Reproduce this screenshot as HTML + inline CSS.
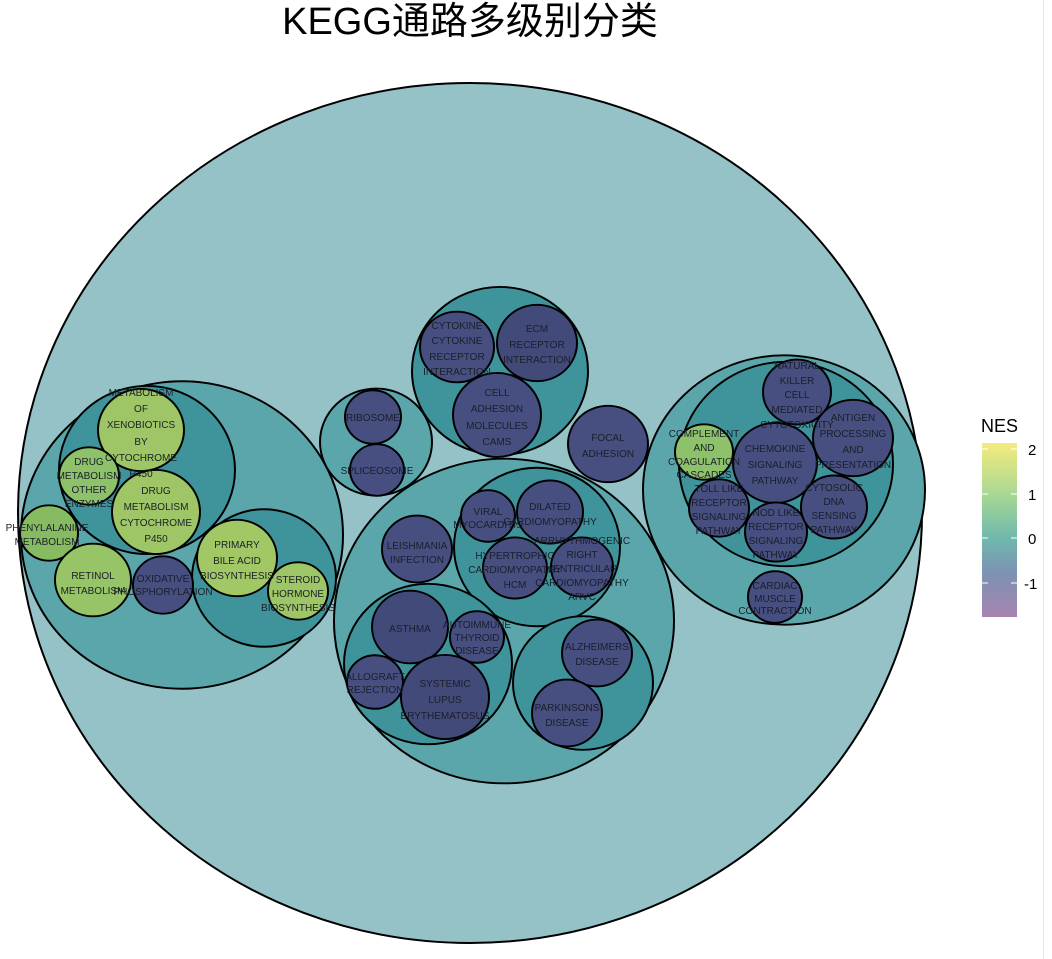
<!DOCTYPE html>
<html><head><meta charset="utf-8"><style>
html,body{margin:0;padding:0;background:#fff;}
svg{display:block;}
text{font-family:"Liberation Sans",sans-serif;}
.l{font-size:10px;fill:#1a1f2a;text-anchor:middle;}
.c circle{transform-box:fill-box;transform-origin:center;transform:scaleY(0.955);}
</style></head><body>
<svg width="1052" height="959" viewBox="0 0 1052 959" xmlns="http://www.w3.org/2000/svg">
<rect width="1052" height="959" fill="#fff"/>
<line x1="1043.5" y1="0" x2="1043.5" y2="959" stroke="#e2e2e2" stroke-width="1"/>
<text x="470" y="34" font-size="38" text-anchor="middle" style='font-family:"Liberation Sans","Noto Sans CJK SC",sans-serif' fill="#000">KEGG通路多级别分类</text>
<ellipse cx="470" cy="513" rx="452" ry="430" fill="#94c2c6" stroke="#000" stroke-width="2"/>
<g stroke="#000" stroke-width="2" class="c">
<!-- left -->
<circle cx="182" cy="535" r="161" fill="#5ba6ab"/>
<circle cx="147" cy="470" r="88" fill="#3f939b"/>
<circle cx="264" cy="578" r="72" fill="#3f939b"/>
<circle cx="141" cy="430" r="43" fill="#9fc666"/>
<circle cx="89" cy="476" r="30" fill="#8dc26a"/>
<circle cx="156" cy="512" r="44" fill="#9fc666"/>
<circle cx="49" cy="533" r="29" fill="#86bb62"/>
<circle cx="93" cy="580" r="38" fill="#97c466"/>
<circle cx="163" cy="585" r="30" fill="#464f80"/>
<circle cx="237" cy="558" r="40" fill="#a2c866"/>
<circle cx="298" cy="591" r="30" fill="#9fc666"/>
<!-- ribosome -->
<circle cx="376" cy="442" r="56" fill="#5ba6ab"/>
<circle cx="373" cy="417" r="28" fill="#464f80"/>
<circle cx="377" cy="470" r="27" fill="#464f80"/>
<!-- cytokine -->
<circle cx="500" cy="371" r="88" fill="#3f939b"/>
<circle cx="457" cy="347" r="37" fill="#464f80"/>
<circle cx="537" cy="343" r="40" fill="#424a7a"/>
<circle cx="497" cy="415" r="44" fill="#464f80"/>
<circle cx="608" cy="444" r="40" fill="#464f80"/>
<!-- center -->
<circle cx="504" cy="621" r="170" fill="#5ba6ab"/>
<circle cx="537" cy="547" r="83" fill="#3f939b"/>
<circle cx="488" cy="516" r="27" fill="#464f80"/>
<circle cx="550" cy="512" r="33" fill="#464f80"/>
<circle cx="515" cy="568" r="32" fill="#464f80"/>
<circle cx="582" cy="567" r="31" fill="#464f80"/>
<circle cx="417" cy="549" r="35" fill="#464f80"/>
<circle cx="428" cy="664" r="84" fill="#3f939b"/>
<circle cx="410" cy="627" r="38" fill="#424a7a"/>
<circle cx="477" cy="637" r="27" fill="#464f80"/>
<circle cx="375" cy="682" r="28" fill="#464f80"/>
<circle cx="445" cy="697" r="44" fill="#424a7a"/>
<circle cx="583" cy="683" r="70" fill="#3f939b"/>
<circle cx="597" cy="653" r="35" fill="#464f80"/>
<circle cx="567" cy="713" r="35" fill="#464f80"/>
<!-- right -->
<circle cx="784" cy="490" r="141" fill="#5ba6ab"/>
<circle cx="786" cy="464" r="107" fill="#3f939b"/>
<circle cx="797" cy="392" r="34" fill="#464f80"/>
<circle cx="853" cy="438" r="40" fill="#464f80"/>
<circle cx="704" cy="452" r="29" fill="#8dc26a"/>
<circle cx="775" cy="463" r="42" fill="#464f80"/>
<circle cx="719" cy="508" r="30" fill="#464f80"/>
<circle cx="776" cy="532" r="31" fill="#464f80"/>
<circle cx="834" cy="507" r="33" fill="#464f80"/>
<circle cx="775" cy="597" r="27" fill="#464f80"/>
</g>
<g class="l">
<text class="l" x="141" y="396">METABOLISM</text><text class="l" x="141" y="412">OF</text><text class="l" x="141" y="428">XENOBIOTICS</text><text class="l" x="141" y="445">BY</text><text class="l" x="141" y="461">CYTOCHROME</text><text class="l" x="141" y="477">P450</text>
<text class="l" x="89" y="465">DRUG</text><text class="l" x="89" y="479">METABOLISM</text><text class="l" x="89" y="493">OTHER</text><text class="l" x="89" y="507">ENZYMES</text>
<text class="l" x="156" y="494">DRUG</text><text class="l" x="156" y="510">METABOLISM</text><text class="l" x="156" y="526">CYTOCHROME</text><text class="l" x="156" y="542">P450</text>
<text class="l" x="47" y="531">PHENYLALANINE</text><text class="l" x="47" y="545">METABOLISM</text>
<text class="l" x="93" y="579">RETINOL</text><text class="l" x="93" y="594">METABOLISM</text>
<text class="l" x="163" y="582">OXIDATIVE</text><text class="l" x="163" y="595">PHOSPHORYLATION</text>
<text class="l" x="237" y="548">PRIMARY</text><text class="l" x="237" y="564">BILE ACID</text><text class="l" x="237" y="579">BIOSYNTHESIS</text>
<text class="l" x="298" y="583">STEROID</text><text class="l" x="298" y="597">HORMONE</text><text class="l" x="298" y="611">BIOSYNTHESIS</text>
<text class="l" x="373" y="421">RIBOSOME</text>
<text class="l" x="377" y="474">SPLICEOSOME</text>
<text class="l" x="457" y="329">CYTOKINE</text><text class="l" x="457" y="344">CYTOKINE</text><text class="l" x="457" y="360">RECEPTOR</text><text class="l" x="457" y="375">INTERACTION</text>
<text class="l" x="537" y="332">ECM</text><text class="l" x="537" y="348">RECEPTOR</text><text class="l" x="537" y="363">INTERACTION</text>
<text class="l" x="497" y="396">CELL</text><text class="l" x="497" y="412">ADHESION</text><text class="l" x="497" y="429">MOLECULES</text><text class="l" x="497" y="445">CAMS</text>
<text class="l" x="608" y="441">FOCAL</text><text class="l" x="608" y="457">ADHESION</text>
<text class="l" x="488" y="515">VIRAL</text><text class="l" x="488" y="528">MYOCARDITIS</text>
<text class="l" x="550" y="510">DILATED</text><text class="l" x="550" y="525">CARDIOMYOPATHY</text>
<text class="l" x="515" y="559">HYPERTROPHIC</text><text class="l" x="515" y="573">CARDIOMYOPATHY</text><text class="l" x="515" y="588">HCM</text>
<text class="l" x="582" y="544">ARRHYTHMOGENIC</text><text class="l" x="582" y="558">RIGHT</text><text class="l" x="582" y="572">VENTRICULAR</text><text class="l" x="582" y="586">CARDIOMYOPATHY</text><text class="l" x="582" y="600">ARVC</text>
<text class="l" x="417" y="549">LEISHMANIA</text><text class="l" x="417" y="563">INFECTION</text>
<text class="l" x="410" y="632">ASTHMA</text>
<text class="l" x="477" y="628">AUTOIMMUNE</text><text class="l" x="477" y="641">THYROID</text><text class="l" x="477" y="654">DISEASE</text>
<text class="l" x="375" y="680">ALLOGRAFT</text><text class="l" x="375" y="693">REJECTION</text>
<text class="l" x="445" y="687">SYSTEMIC</text><text class="l" x="445" y="703">LUPUS</text><text class="l" x="445" y="719">ERYTHEMATOSUS</text>
<text class="l" x="597" y="650">ALZHEIMERS</text><text class="l" x="597" y="665">DISEASE</text>
<text class="l" x="567" y="711">PARKINSONS</text><text class="l" x="567" y="726">DISEASE</text>
<text class="l" x="797" y="369">NATURAL</text><text class="l" x="797" y="384">KILLER</text><text class="l" x="797" y="398">CELL</text><text class="l" x="797" y="413">MEDIATED</text><text class="l" x="797" y="428">CYTOTOXICITY</text>
<text class="l" x="853" y="421">ANTIGEN</text><text class="l" x="853" y="437">PROCESSING</text><text class="l" x="853" y="453">AND</text><text class="l" x="853" y="468">PRESENTATION</text>
<text class="l" x="704" y="437">COMPLEMENT</text><text class="l" x="704" y="451">AND</text><text class="l" x="704" y="465">COAGULATION</text><text class="l" x="704" y="478">CASCADES</text>
<text class="l" x="775" y="452">CHEMOKINE</text><text class="l" x="775" y="468">SIGNALING</text><text class="l" x="775" y="484">PATHWAY</text>
<text class="l" x="719" y="492">TOLL LIKE</text><text class="l" x="719" y="506">RECEPTOR</text><text class="l" x="719" y="520">SIGNALING</text><text class="l" x="719" y="534">PATHWAY</text>
<text class="l" x="776" y="516">NOD LIKE</text><text class="l" x="776" y="530">RECEPTOR</text><text class="l" x="776" y="544">SIGNALING</text><text class="l" x="776" y="558">PATHWAY</text>
<text class="l" x="834" y="491">CYTOSOLIC</text><text class="l" x="834" y="505">DNA</text><text class="l" x="834" y="519">SENSING</text><text class="l" x="834" y="533">PATHWAY</text>
<text class="l" x="775" y="589">CARDIAC</text><text class="l" x="775" y="602">MUSCLE</text><text class="l" x="775" y="614">CONTRACTION</text>
</g>
<!-- legend -->
<text x="981" y="432" font-size="18" fill="#000">NES</text>
<defs><linearGradient id="g" x1="0" y1="0" x2="0" y2="1">
<stop offset="0" stop-color="#f4eb7e"/><stop offset="0.3" stop-color="#a7d893"/><stop offset="0.55" stop-color="#6fb8ad"/><stop offset="0.75" stop-color="#7d92b4"/><stop offset="1" stop-color="#a585b0"/></linearGradient></defs>
<rect x="982" y="443" width="35" height="174" fill="url(#g)"/>
<g stroke="#fff" stroke-width="1"><line x1="982" y1="449" x2="988" y2="449"/><line x1="1011" y1="449" x2="1017" y2="449"/><line x1="982" y1="494" x2="988" y2="494"/><line x1="1011" y1="494" x2="1017" y2="494"/><line x1="982" y1="538" x2="988" y2="538"/><line x1="1011" y1="538" x2="1017" y2="538"/><line x1="982" y1="583" x2="988" y2="583"/><line x1="1011" y1="583" x2="1017" y2="583"/></g>
<g font-size="15" fill="#000"><text x="1028" y="455">2</text><text x="1028" y="500">1</text><text x="1028" y="544">0</text><text x="1024" y="589">-1</text></g>
</svg>
</body></html>
